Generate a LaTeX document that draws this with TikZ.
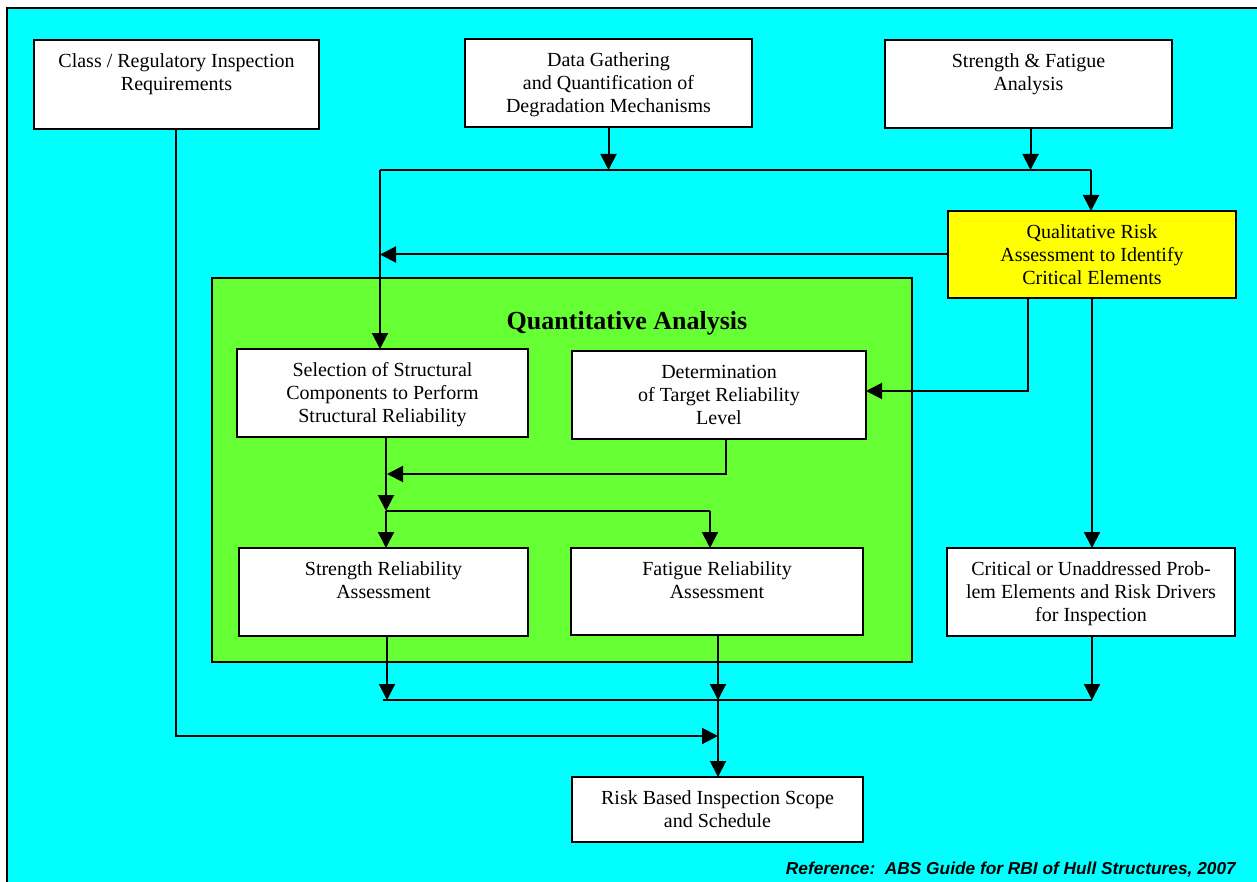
\documentclass[tikz,border=0pt]{standalone}
\usepackage{fontspec}
\setmainfont{Liberation Serif}
\newfontfamily\notefont{Liberation Sans}
\usetikzlibrary{arrows.meta}

\definecolor{sky}{HTML}{00FFFF}
\definecolor{lime}{HTML}{66FF33}
\definecolor{lemon}{HTML}{FFFF00}

\tikzset{
  flowbox/.style={draw=black, line width=2.2pt, rectangle, inner sep=0pt, outer sep=0pt},
  flowtext/.style={inner sep=0pt, align=center, anchor=north,
    font=\fontsize{20}{23}\selectfont},
  wire/.style={draw=black, line width=2pt},
  arrowwire/.style={wire, -{Triangle[length=16pt,width=16pt]}},
}

% \flowbox[fill]{name}{left}{top}{right}{bottom}{text}
\newcommand{\flowbox}[7][white]{%
  \node[flowbox, fill=#1, minimum width={(#5)-(#3)}, minimum height={(#6)-(#4)}]
    (#2) at ({((#3)+(#5))/2},{((#4)+(#6))/2}) {};
  \node[flowtext] (#2-text) at ([yshift=-10.9pt]#2.north) {\strut #7};
}

\begin{document}
\begin{tikzpicture}[x=1pt, y=-1pt]
\useasboundingbox (0,0) rectangle (1257,882);

% outer panel
\begin{scope}
  \clip (0,0) rectangle (1257,882);
  \draw[fill=sky, line width=2pt] (7,8) rectangle (1270,895);
\end{scope}

% quantitative analysis panel
\node[flowbox, fill=lime, minimum width=700, minimum height=384] (qa) at (562,470) {};
\node[inner sep=0pt, anchor=base, font=\fontsize{26}{30}\selectfont\bfseries]
  (qa-title) at (627,330) {Quantitative Analysis};

% boxes
\flowbox{cls}{34}{40}{319}{129}{Class / Regulatory Inspection\\Requirements}
\flowbox{data}{465}{39}{752}{127}{Data Gathering\\and Quantification of\\Degradation Mechanisms}
\flowbox{sfa}{885}{40}{1172}{128}{Strength \& Fatigue\\Analysis}
\flowbox[lemon]{qra}{948}{211}{1236}{298}{Qualitative Risk\\Assessment to Identify\\Critical Elements}
\flowbox{sel}{237}{349}{528}{437}{Selection of Structural\\Components to Perform\\Structural Reliability}
\flowbox{det}{572}{351}{866}{439}{Determination\\of Target Reliability\\Level}
\flowbox{str}{239}{548}{528}{636}{Strength Reliability\\Assessment}
\flowbox{fat}{571}{548}{863}{635}{Fatigue Reliability\\Assessment}
\flowbox{crit}{947}{548}{1235}{636}{Critical or Unaddressed Prob-\\lem Elements and Risk Drivers\\for Inspection}
\flowbox{rbi}{572}{777}{863}{842}{Risk Based Inspection Scope\\and Schedule}

% junction points
\coordinate (topbus-l) at (380,170);
\coordinate (topbus-r) at (1091,170);
\coordinate (qr-det) at (1028,391);
\coordinate (det-back) at (726,474);
\coordinate (sel-drop) at (386,511);
\coordinate (fat-drop) at (710,511);
\coordinate (bot-l) at (383,700);
\coordinate (bot-m) at (718,700);
\coordinate (bot-r) at (1092,700);
\coordinate (cls-turn) at (176,736);

% top feeds
\draw[arrowwire] (data.south) -- (data.south |- topbus-l);
\draw[arrowwire] ([xshift=2pt]sfa.south) -- ([xshift=2pt]sfa.south |- topbus-l);
\draw[wire] (topbus-l) -- (topbus-r);
\draw[arrowwire] (topbus-r) -- (topbus-r |- qra.north);
\draw[arrowwire] (topbus-l) -- (topbus-l |- sel.north);
\draw[arrowwire] (qra.west) -- (qra.west -| topbus-l);

% from the qualitative assessment
\draw[arrowwire] (qra.south -| qr-det) -- (qr-det) -- (qr-det -| det.east);
\draw[arrowwire] (qra.south -| bot-r) -- (crit.north -| bot-r);

% inside the quantitative analysis
\draw[arrowwire] (sel.south -| sel-drop) -- (sel-drop);
\draw[arrowwire] (det.south -| det-back) -- (det-back) -- ([xshift=1pt]det-back -| sel-drop);
\draw[wire] (sel-drop) -- (fat-drop);
\draw[arrowwire] (sel-drop) -- (sel-drop |- str.north);
\draw[arrowwire] (fat-drop) -- (fat-drop |- fat.north);

% bottom collection
\draw[arrowwire] (str.south -| 387,0) -- (bot-l -| 387,0);
\draw[arrowwire] (fat.south -| bot-m) -- (bot-m);
\draw[arrowwire] (crit.south -| bot-r) -- (bot-r);
\draw[wire] (bot-l) -- (bot-r);
\draw[arrowwire] (bot-m) -- (bot-m |- rbi.north);
\draw[arrowwire] (cls.south -| cls-turn) -- (cls-turn) -- (cls-turn -| bot-m);

% source note
\node[inner sep=0pt, anchor=base east, font=\notefont\fontsize{17.3}{20}\selectfont\bfseries\itshape]
  (note) at (1236,874) {Reference:~~ABS Guide for RBI of Hull Structures, 2007};
\end{tikzpicture}
\end{document}
